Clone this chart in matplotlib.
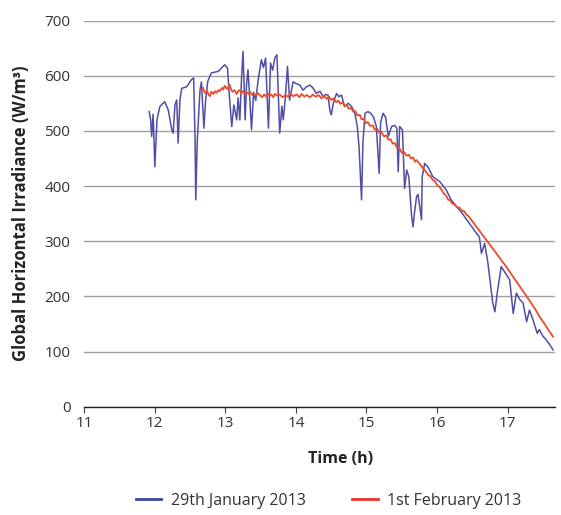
import matplotlib
matplotlib.use('Agg')
import matplotlib.pyplot as plt
from matplotlib.lines import Line2D

# 29th January 2013
jan_time = [11.92, 11.94, 11.955, 11.975, 12.00, 12.03, 12.07, 12.10, 12.14, 12.19,
            12.24, 12.26, 12.285, 12.31, 12.33, 12.355, 12.38, 12.45, 12.52, 12.55,
            12.57, 12.58, 12.60, 12.64, 12.66, 12.695, 12.72, 12.75, 12.80, 12.90,
            12.99, 13.03, 13.05, 13.09, 13.12, 13.16, 13.18, 13.205, 13.23, 13.25,
            13.28, 13.30, 13.32, 13.345, 13.37, 13.40, 13.43, 13.465, 13.51, 13.54,
            13.57, 13.61, 13.64, 13.67, 13.70, 13.73, 13.77, 13.80, 13.82, 13.85,
            13.88, 13.91, 13.96, 14.00, 14.055, 14.10, 14.15, 14.20, 14.24, 14.29,
            14.34, 14.385, 14.42, 14.455, 14.48, 14.50, 14.53, 14.575, 14.61, 14.645,
            14.69, 14.74, 14.79, 14.835, 14.87, 14.895, 14.93, 14.95, 14.98, 15.02,
            15.06, 15.10, 15.14, 15.18, 15.20, 15.235, 15.27, 15.31, 15.355, 15.40,
            15.43, 15.45, 15.47, 15.51, 15.54, 15.57, 15.60, 15.64, 15.66, 15.68,
            15.71, 15.73, 15.755, 15.78, 15.79, 15.825, 15.87, 15.94, 16.04, 16.13,
            16.20, 16.275, 16.35, 16.42, 16.50, 16.56, 16.60, 16.63, 16.675, 16.72,
            16.79, 16.82, 16.86, 16.91, 16.97, 17.03, 17.08, 17.125, 17.17, 17.22,
            17.27, 17.31, 17.36, 17.42, 17.45, 17.50, 17.55, 17.60, 17.645]
jan_ghi = [535, 520, 490, 530, 435, 520, 544, 548, 553, 538,
           502, 496, 547, 556, 478, 556, 577, 580, 593, 596,
           484, 375, 478, 574, 589, 505, 556, 590, 605, 608,
           620, 614, 574, 508, 547, 520, 560, 520, 600, 644,
           520, 585, 611, 560, 502, 570, 555, 593, 629, 615,
           632, 505, 623, 610, 632, 638, 496, 545, 520, 560,
           617, 556, 589, 586, 583, 574, 580, 583, 578, 568,
           572, 562, 566, 565, 538, 529, 550, 568, 562, 565,
           544, 550, 544, 532, 508, 470, 375, 480, 532, 535,
           532, 525, 508, 423, 515, 532, 525, 490, 508, 510,
           505, 426, 508, 502, 396, 429, 417, 345, 326, 351,
           381, 385, 363, 339, 417, 441, 435, 417, 408, 393,
           375, 363, 352, 339, 325, 314, 308, 278, 296, 262,
           188, 172, 212, 254, 242, 230, 169, 206, 195, 188,
           154, 175, 158, 133, 140, 128, 121, 112, 103]

# 1st February 2013
feb_time = [12.66, 12.68, 12.70, 12.72, 12.74, 12.76, 12.78, 12.80, 12.83, 12.85,
            12.875, 12.90, 12.92, 12.95, 12.97, 12.99, 13.02, 13.04, 13.06, 13.08,
            13.10, 13.13, 13.16, 13.18, 13.20, 13.23, 13.25, 13.28, 13.30, 13.33,
            13.35, 13.38, 13.40, 13.43, 13.45, 13.49, 13.52, 13.55, 13.58, 13.60,
            13.63, 13.65, 13.68, 13.70, 13.74, 13.77, 13.81, 13.85, 13.89, 13.92,
            13.96, 14.01, 14.05, 14.08, 14.12, 14.15, 14.20, 14.24, 14.28, 14.32,
            14.36, 14.40, 14.44, 14.47, 14.50, 14.53, 14.57, 14.60, 14.63, 14.66,
            14.69, 14.72, 14.75, 14.78, 14.81, 14.84, 14.87, 14.905, 14.93, 14.96,
            14.99, 15.02, 15.05, 15.09, 15.12, 15.15, 15.18, 15.21, 15.25, 15.28,
            15.31, 15.34, 15.37, 15.40, 15.43, 15.47, 15.50, 15.53, 15.57, 15.60,
            15.63, 15.66, 15.69, 15.71, 15.755, 15.78, 15.80, 15.83, 15.85, 15.88,
            15.90, 15.94, 15.97, 16.00, 16.03, 16.06, 16.10, 16.13, 16.16, 16.18,
            16.22, 16.25, 16.29, 16.32, 16.35, 16.38, 16.42, 16.45, 16.49, 16.56,
            16.63, 16.70, 16.77, 16.84, 16.91, 16.98, 17.05, 17.12, 17.20, 17.27,
            17.34, 17.41, 17.455, 17.52, 17.58, 17.645]
feb_ghi = [574, 579, 571, 568, 573, 566, 563, 571, 567, 572,
           569, 574, 572, 578, 575, 582, 576, 580, 584, 575,
           571, 574, 567, 572, 574, 569, 572, 566, 570, 567,
           571, 565, 568, 564, 569, 565, 561, 566, 562, 568,
           563, 566, 561, 567, 564, 566, 561, 565, 562, 568,
           563, 566, 561, 567, 562, 565, 561, 566, 562, 565,
           559, 563, 558, 562, 556, 559, 552, 555, 549, 552,
           545, 547, 540, 542, 535, 536, 528, 529, 521, 522,
           514, 516, 509, 510, 502, 504, 497, 498, 490, 492,
           484, 485, 477, 478, 470, 468, 460, 462, 455, 457,
           450, 452, 444, 447, 440, 436, 432, 428, 425, 419,
           419, 411, 409, 402, 399, 394, 386, 382, 375, 375,
           368, 367, 361, 361, 355, 355, 348, 345, 338, 326,
           314, 302, 290, 278, 266, 254, 241, 228, 213, 200,
           187, 173, 163, 151, 139, 127]

x_ticks = [11, 12, 13, 14, 15, 16, 17]
y_ticks = [0, 100, 200, 300, 400, 500, 600, 700]

BLUE = '#4f4fa6'
RED = '#ea4b2e'

plt.rcParams['font.family'] = ['Open Sans', 'DejaVu Sans']

fig = plt.figure(figsize=(5.61, 5.15), dpi=100)
ax = fig.add_axes([0.1503, 0.2103, 0.8387, 0.7497])

ax.plot(jan_time, jan_ghi, color=BLUE, lw=1.1, zorder=3)
ax.plot(feb_time, feb_ghi, color=RED, lw=1.3, zorder=4)

ax.set_xlim(11, 17.67)
ax.set_ylim(0, 700)
ax.set_xticks(x_ticks)
ax.set_yticks(y_ticks)
ax.grid(axis='y', color='#a0a0a0', lw=1.0)
ax.set_axisbelow(True)
for s in ['top', 'right', 'left']:
    ax.spines[s].set_visible(False)
ax.spines['bottom'].set_color('#222222')
ax.spines['bottom'].set_linewidth(1.0)
ax.spines['bottom'].set_zorder(5)
ax.tick_params(axis='x', direction='out', length=4, color='#444444',
               labelsize=11, labelcolor='#333333', pad=3)
ax.tick_params(axis='y', length=0, labelsize=11, labelcolor='#333333', pad=10)

ax.set_xlabel('Time (h)', fontsize=11.5, fontweight='bold', color='#222222')
ax.xaxis.set_label_coords(0.545, -0.115)
ax.set_ylabel('Global Horizontal Irradiance (W/m³)', fontsize=12,
              fontweight='bold', color='#222222')
ax.yaxis.set_label_coords(-0.115, 0.5)

handles = [Line2D([], [], color='#3c45a0', lw=2),
           Line2D([], [], color='#e8302c', lw=2)]
fig.legend(handles, ['29th January 2013', '1st February 2013'],
           loc='center', bbox_to_anchor=(0.586, 0.028), ncol=2, frameon=False,
           fontsize=11.5, handlelength=1.6, handletextpad=0.6,
           columnspacing=2.9, labelcolor='#333333')

fig.savefig('out.png', dpi=100)
